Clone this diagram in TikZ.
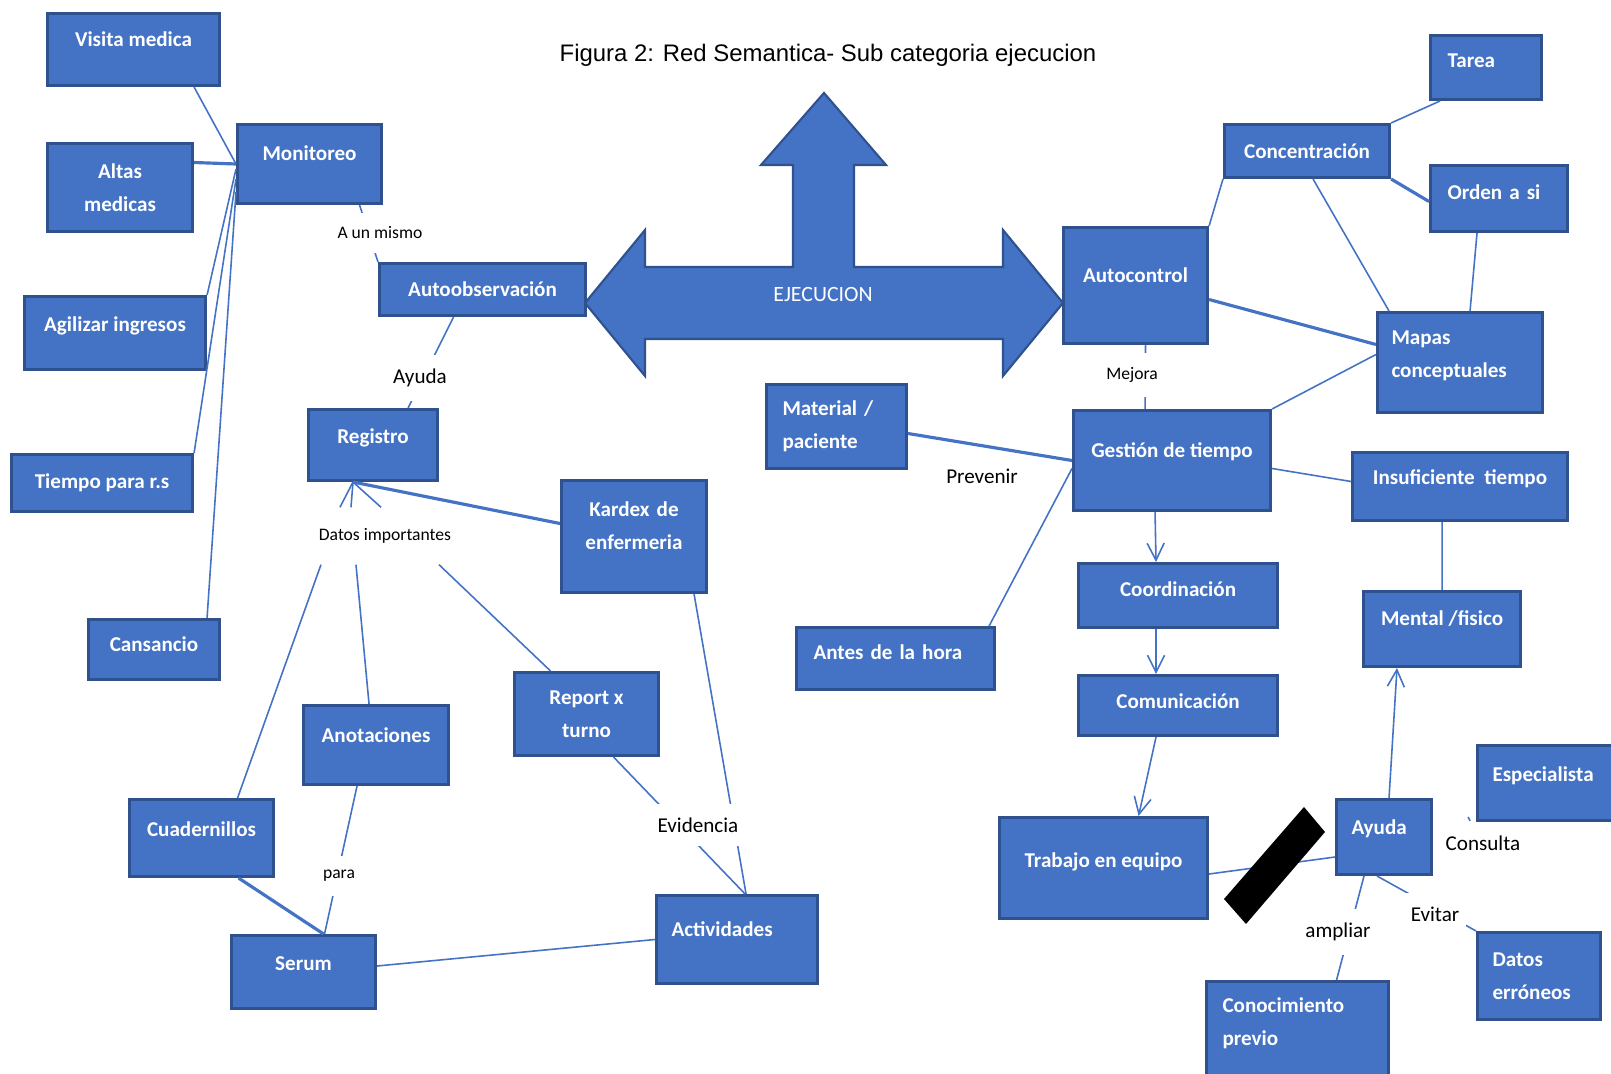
\documentclass[tikz,border=0pt]{standalone}
\usepackage{fontspec}
\setmainfont{Carlito}
\newfontfamily\titlefont{Liberation Sans}
\usetikzlibrary{arrows.meta}
\definecolor{boxblue}{RGB}{68,114,196}
\definecolor{boxline}{RGB}{47,82,143}
\definecolor{linkblue}{RGB}{68,114,196}

\begin{document}
\begin{tikzpicture}[
        x=0.01cm, y=-0.01cm,
        box/.style={rectangle, draw=boxline, fill=boxblue, line width=0.85pt, text=white, inner sep=0pt, anchor=north west, align=center, font=\bfseries\fontsize{6}{9.4}\selectfont},
        liftup/.style={text height=0.14cm, text depth=#1},
        link/.style={draw=linkblue, line width=0.45pt},
        heavy/.style={link, line width=0.9pt},
        flow/.style={link, -{Straight Barb[length=0.17cm, width=0.17cm]}},
        rel/.style={fill=white, inner xsep=2pt, inner ysep=4pt, font=\fontsize{6}{7.2}\selectfont},
        relsmall/.style={rel, font=\fontsize{5}{6}\selectfont}
    ]
        \path[use as bounding box, fill=white] (0,0) rectangle (1611,1074);

        \node[font=\titlefont\fontsize{6.8}{8}\selectfont] (title) at (828,55) {Figura 2: Red Semantica- Sub categoria ejecucion};

        \filldraw[fill=boxblue, draw=boxline, line width=0.6pt] (585,303) -- (645,230) -- (645,267) -- (793,267) -- (793,165) -- (761,165) -- (824,93) -- (886,165) -- (854,165) -- (854,267) -- (1003,267) -- (1003,230) -- (1063,303) -- (1003,376) -- (1003,339) -- (645,339) -- (645,376) -- cycle;
        \node[text=white, font=\fontsize{6.2}{7.4}\selectfont] (ejecucion) at (823,295) {EJECUCION};

        \node[box, minimum width=1.72cm, minimum height=0.72cm, liftup=0.2cm] (visita) at (46,12) {Visita medica};
        \node[box, minimum width=1.45cm, minimum height=0.88cm] (altas) at (46,142) {Altas\\medicas};
        \node[box, minimum width=1.44cm, minimum height=0.79cm, liftup=0.2cm] (monitoreo) at (236,123) {Monitoreo};
        \node[box, minimum width=1.81cm, minimum height=0.73cm, liftup=0.16cm] (agilizar) at (23,295) {Agilizar ingresos};
        \node[box, minimum width=1.81cm, minimum height=0.57cm] (tiempors) at (10,453) {Tiempo para r.s};
        \node[box, minimum width=1.31cm, minimum height=0.6cm, liftup=0.1cm] (cansancio) at (87,618) {Cansancio};
        \node[box, minimum width=2.06cm, minimum height=0.52cm] (autoobs) at (378,262) {Autoobservación};
        \node[box, minimum width=1.29cm, minimum height=0.71cm, liftup=0.16cm] (registro) at (307,408) {Registro};
        \node[box, minimum width=1.45cm, minimum height=1.12cm, text width=1.4cm, liftup=0.54cm] (kardex) at (560,479) {Kardex de\\enfermeria};
        \node[box, minimum width=1.45cm, minimum height=0.79cm, liftup=0.2cm] (anotaciones) at (302,704) {Anotaciones};
        \node[box, minimum width=1.44cm, minimum height=0.83cm] (report) at (513,671) {Report x\\turno};
        \node[box, minimum width=1.44cm, minimum height=0.77cm, liftup=0.18cm] (cuadernillos) at (128,798) {Cuadernillos};
        \node[box, minimum width=1.44cm, minimum height=0.73cm, liftup=0.18cm] (serum) at (230,934) {Serum};
        \node[box, minimum width=1.61cm, minimum height=0.88cm, text width=1.31cm, align=left, liftup=0.2cm] (actividades) at (655,894) {Actividades};

        \node[box, minimum width=1.4cm, minimum height=0.84cm, text width=1.08cm, align=left] (material) at (765,383) {Material /\\paciente};
        \node[box, minimum width=1.98cm, minimum height=0.62cm, text width=1.64cm, align=left, liftup=0.12cm] (antes) at (795,626) {Antes de la hora};
        \node[box, minimum width=1.44cm, minimum height=1.16cm, liftup=0.2cm] (autocontrol) at (1062,226) {Autocontrol};
        \node[box, minimum width=1.65cm, minimum height=0.53cm] (concentracion) at (1223,123) {Concentración};
        \node[box, minimum width=1.11cm, minimum height=0.64cm, text width=0.77cm, align=left, liftup=0.14cm] (tarea) at (1429,34) {Tarea};
        \node[box, minimum width=1.37cm, minimum height=0.66cm, text width=1.03cm, align=left, liftup=0.12cm] (orden) at (1429,164) {Orden a si};
        \node[box, minimum width=1.65cm, minimum height=1cm, text width=1.37cm, align=left, liftup=0.5cm] (mapas) at (1376,311) {Mapas\\conceptuales};
        \node[box, minimum width=1.97cm, minimum height=1cm, liftup=0.2cm] (gestion) at (1072,409) {Gestión de tiempo};
        \node[box, minimum width=2.15cm, minimum height=0.68cm, liftup=0.18cm] (insuficiente) at (1351,451) {Insuficiente\ \ tiempo};
        \node[box, minimum width=1.99cm, minimum height=0.64cm, liftup=0.12cm] (coordinacion) at (1077,562) {Coordinación};
        \node[box, minimum width=1.99cm, minimum height=0.6cm, liftup=0.08cm] (comunicacion) at (1077,674) {Comunicación};
        \node[box, minimum width=1.57cm, minimum height=0.75cm, liftup=0.2cm] (mental) at (1362,590) {Mental /fisico};
        \node[box, minimum width=2.08cm, minimum height=1.01cm, liftup=0.16cm] (trabajo) at (998,816) {Trabajo en equipo};
        \node[box, minimum width=0.95cm, minimum height=0.75cm, text width=0.65cm, align=left, liftup=0.2cm] (ayuda) at (1335,798) {Ayuda};
        \node[box, minimum width=1.5cm, minimum height=0.75cm, text width=1.2cm, align=left, liftup=0.18cm] (especialista) at (1476,744) {Especialista};
        \node[box, minimum width=1.23cm, minimum height=0.87cm, text width=0.93cm, align=left] (datoserr) at (1476,931) {Datos\\erróneos};
        \node[box, minimum width=1.82cm, minimum height=1.05cm, text width=1.5cm, align=left, liftup=0.57cm] (conocimiento) at (1205,980) {Conocimiento\\previo};

        \draw[link] ([xshift=-0.27cm]visita.south east) -- (monitoreo.west);
        \draw[heavy] ([yshift=0.25cm]altas.east) -- (monitoreo.west);
        \draw[link] ([yshift=-0.05cm]monitoreo.west) -- (agilizar.north east);
        \draw[link] ([yshift=-0.15cm]monitoreo.west) -- (tiempors.north east);
        \draw[link] ([yshift=-0.28cm]monitoreo.west) -- ([xshift=-0.14cm]cansancio.north east);
        \draw[link] ([xshift=0.5cm]monitoreo.south) -- (autoobs.north west);
        \draw[link] ([xshift=-0.29cm]autoobs.south) -- ([xshift=0.35cm]registro.north);

        \node[relsmall, minimum height=0.56cm, inner ysep=0pt] (datosimp) at (385,536) {Datos importantes};
        \foreach \dx in {-0.45cm,-0.34cm,-0.04cm}
            \draw[link] ([xshift=\dx]datosimp.north) -- ([xshift=-0.2cm]registro.south);
        \draw[heavy] ([yshift=0.13cm]kardex.west) -- ([xshift=-0.2cm]registro.south);
        \draw[link] ([xshift=-0.64cm]datosimp.south) -- ([xshift=0.36cm]cuadernillos.north);
        \draw[link] ([xshift=-0.29cm]datosimp.south) -- ([xshift=-0.07cm]anotaciones.north);
        \draw[link] ([xshift=0.54cm]datosimp.south) -- ([xshift=-0.36cm]report.north);
        \draw[heavy] ([xshift=0.37cm]cuadernillos.south) -- ([xshift=0.2cm]serum.north);
        \draw[link] ([xshift=-0.19cm]anotaciones.south) -- ([xshift=0.21cm]serum.north);
        \draw[link] ([yshift=0.06cm]serum.east) -- (actividades.west);
        \draw[link] ([xshift=0.27cm]report.south) -- ([xshift=0.08cm]actividades.north);
        \draw[link] ([xshift=0.6cm]kardex.south) -- ([xshift=0.09cm]actividades.north);

        \draw[heavy] ([yshift=-0.07cm]material.east) -- (gestion.west);
        \draw[link] ([yshift=-0.08cm]gestion.west) -- ([xshift=-0.07cm]antes.north east);
        \draw[link] (autocontrol.north east) -- (concentracion.south west);
        \draw[link] (concentracion.north east) -- ([xshift=0.11cm]tarea.south west);
        \draw[heavy] (concentracion.south east) -- ([yshift=-0.03cm]orden.west);
        \draw[link] ([xshift=0.06cm]concentracion.south) -- ([xshift=0.13cm]mapas.north west);
        \draw[link] ([xshift=-0.22cm]orden.south) -- ([xshift=0.1cm]mapas.north);
        \draw[heavy] ([yshift=-0.14cm]autocontrol.east) -- ([yshift=0.18cm]mapas.west);
        \draw[link] ([yshift=0.08cm]mapas.west) -- (gestion.north east);
        \draw[link] ([xshift=0.1cm]autocontrol.south) -- ([xshift=-0.27cm]gestion.north);
        \draw[link] ([yshift=-0.08cm]gestion.east) -- ([yshift=0.05cm]insuficiente.west);
        \draw[flow] ([xshift=-0.17cm]gestion.south) -- ([xshift=-0.22cm]coordinacion.north);
        \draw[flow] ([xshift=-0.22cm]coordinacion.south) -- ([xshift=-0.22cm]comunicacion.north);
        \draw[flow] ([xshift=-0.22cm]comunicacion.south) -- ([xshift=0.35cm]trabajo.north);
        \draw[link] ([yshift=-0.06cm]trabajo.east) -- ([yshift=-0.2cm]ayuda.west);
        \fill[black] (1224,899) -- (1304,807) -- (1325,832) -- (1246,924) -- cycle;
        \draw[flow] ([xshift=0.05cm]ayuda.north) -- ([xshift=-0.45cm]mental.south);
        \draw[link] ([xshift=-0.18cm]insuficiente.south) -- (mental.north);
        \draw[link] ([xshift=-0.2cm]ayuda.south) -- ([xshift=0.39cm]conocimiento.north);
        \draw[link] ([xshift=-0.07cm]ayuda.south) -- (datoserr.north west);

        \node[relsmall] (amismo) at (380,233) {A un mismo};
        \node[rel] (ayudarel) at (420,378) {Ayuda};
        \node[relsmall] (para) at (339,876) {para};
        \node[rel] (evidencia) at (698,825) {Evidencia};
        \node[rel] (prevenir) at (982,476) {Prevenir};
        \node[relsmall] (mejora) at (1132,375) {Mejora};
        \node[rel] (ampliar) at (1338,932) {ampliar};
        \node[rel] (evitar) at (1435,914) {Evitar};
        \node[rel] (consulta) at (1483,843) {Consulta};
        \draw[link] (consulta) -- ([xshift=-0.08cm, yshift=0.05cm]especialista.south west);
    \end{tikzpicture}
\end{document}
